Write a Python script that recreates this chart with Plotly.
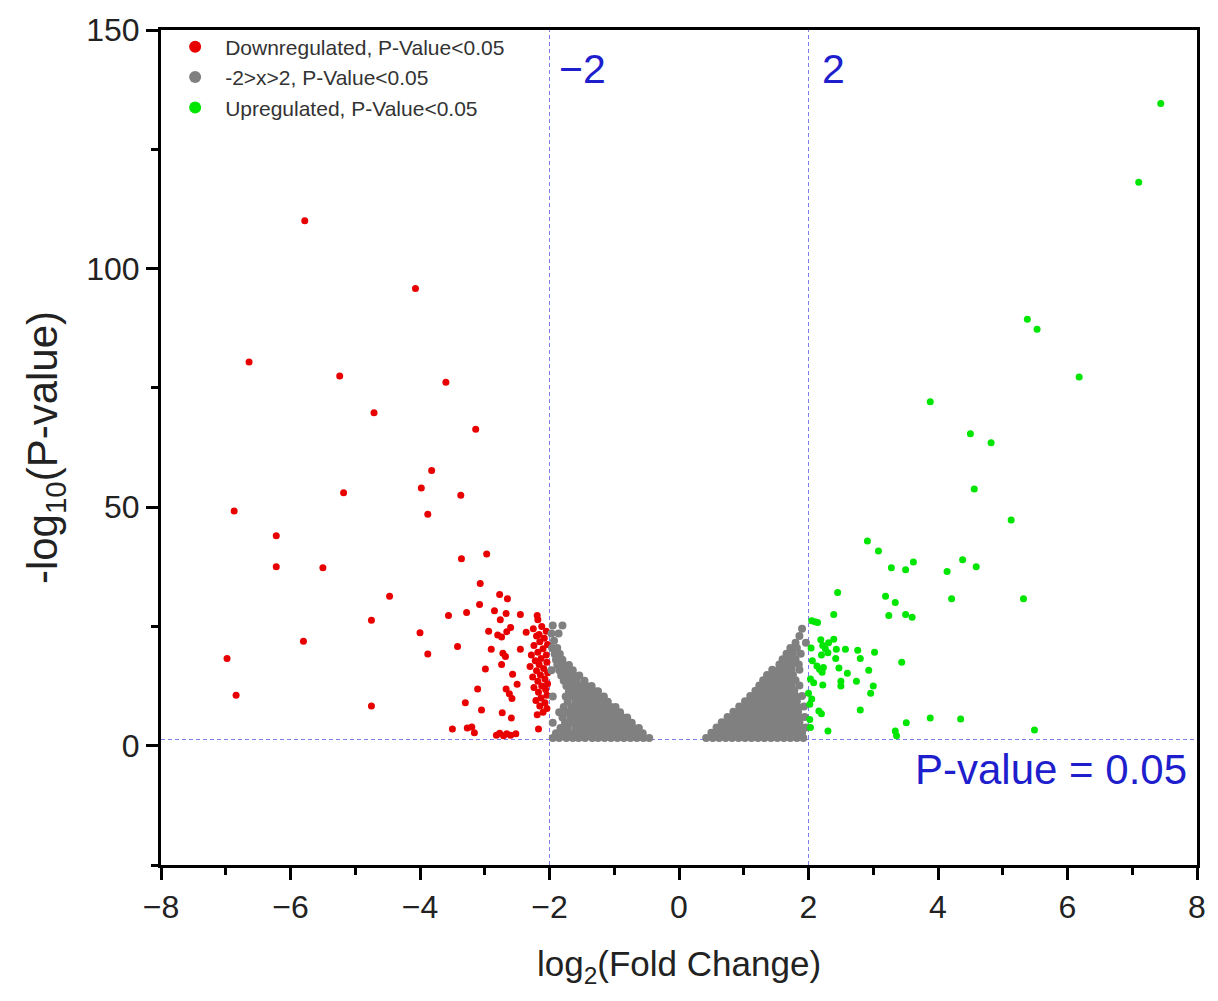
import plotly.graph_objects as go

# ---------------- data ----------------
red_x = [-5.78, -4.07, -6.64, -5.24, -3.60, -4.71, -3.14, -3.82, -3.98, -5.18, -3.37, -6.87, -3.88,
         -6.22, -6.22, -5.50, -3.36, -2.97, -3.07, -4.47, -2.77, -2.65, -3.08, -3.56, -3.28, -2.85,
         -2.67, -2.45, -2.19, -2.18, -2.76, -4.75, -4.00, -2.94, -2.80, -2.74, -2.66, -2.60, -2.36,
         -5.80, -3.42, -2.90, -2.45, -2.72, -2.68, -3.88, -6.98, -2.74, -2.99, -2.57, -2.50, -3.11,
         -2.67, -2.62, -2.58, -6.84, -3.30, -4.75, -3.05, -2.73, -2.59, -3.50, -3.27, -3.20, -3.16,
         -2.82, -2.77, -2.71, -2.66, -2.60, -2.52, -2.17,
         -2.25, -2.12, -2.05, -2.20, -2.08, -2.15, -2.03, -2.24, -2.10, -2.18, -2.05, -2.28, -2.13,
         -2.22, -2.04, -2.16, -2.30, -2.09, -2.20, -2.03, -2.14, -2.26, -2.07, -2.18, -2.03, -2.12,
         -2.24, -2.06, -2.17, -2.04, -2.13, -2.21, -2.07, -2.15, -2.04, -2.10, -2.19, -2.16]
red_y = [110.0, 95.8, 80.4, 77.5, 76.2, 69.8, 66.3, 57.7, 54.0, 53.0, 52.5, 49.2, 48.5,
         44.0, 37.5, 37.3, 39.2, 40.2, 34.0, 31.3, 31.7, 30.8, 29.6, 27.3, 27.9, 28.3,
         27.7, 27.5, 27.3, 26.4, 26.4, 26.3, 23.7, 24.0, 23.2, 22.8, 23.9, 24.8, 23.8,
         21.9, 20.8, 20.2, 20.2, 19.4, 18.7, 19.2, 18.3, 17.0, 16.1, 15.0, 12.9, 11.9,
         11.9, 10.9, 9.9, 10.6, 9.0, 8.3, 7.5, 6.9, 5.8, 3.5, 3.7, 3.9, 2.7,
         2.2, 2.6, 2.1, 2.5, 2.2, 2.5, 3.5,
         24.5, 25.0, 24.0, 23.0, 22.5, 21.8, 21.2, 21.0, 20.3, 19.6, 19.0, 19.0, 18.3,
         17.8, 17.5, 17.0, 16.6, 16.2, 15.7, 15.3, 14.8, 14.4, 14.0, 13.5, 13.0, 12.5,
         12.2, 11.8, 11.2, 10.6, 10.0, 9.5, 9.0, 8.3, 7.8, 7.0, 6.5, 23.3]

green_x = [7.44, 7.10, 5.38, 5.53, 6.18, 3.88, 4.50, 4.82, 4.56, 5.13, 2.91, 3.08, 3.62, 3.28,
           3.50, 4.38, 4.59, 4.14, 2.45, 3.19, 3.34, 4.21, 5.32, 2.39, 3.24, 3.50, 3.60, 2.05,
           2.14, 2.10, 2.39, 2.22, 2.26, 2.30, 2.20, 2.43, 2.57, 2.76, 3.02, 2.42, 2.80, 2.13,
           2.17, 2.21, 2.23, 2.47, 2.60, 2.93, 3.44, 2.03, 2.50, 2.50, 2.74, 2.22, 3.00, 2.96,
           2.00, 2.02, 2.16, 2.20, 2.80, 3.88, 4.35, 3.51, 2.03, 2.30, 3.34, 3.36, 5.49,
           2.04, 2.06, 2.02, 2.08, 2.05, 2.31, 2.19]
green_y = [134.6, 118.1, 89.4, 87.3, 77.3, 72.1, 65.4, 63.5, 53.8, 47.3, 42.9, 40.8, 38.5, 37.3,
           36.9, 39.0, 37.5, 36.5, 32.1, 31.3, 30.0, 30.8, 30.8, 27.5, 27.3, 27.5, 26.9, 26.2,
           25.8, 26.0, 22.3, 21.0, 20.3, 19.5, 19.0, 20.2, 20.2, 20.0, 19.6, 18.3, 18.3, 16.7,
           16.0, 15.4, 16.4, 16.3, 15.2, 15.8, 17.5, 14.0, 13.5, 12.5, 13.5, 12.7, 12.5, 11.0,
           11.0, 8.7, 7.3, 6.7, 7.5, 5.8, 5.6, 4.8, 3.8, 3.1, 3.1, 2.1, 3.3,
           20.5, 17.8, 5.5, 13.2, 9.8, 21.6, 22.2]

# grey points (|log2FC| < 2), left and right wings, listed row by row
grey_left = [
    (1.6, [-1.95, -1.85, -1.74, -1.64, -1.55, -1.45, -1.34, -1.25, -1.15, -1.05, -0.95, -0.85, -0.75, -0.65, -0.55, -0.46]),
    (2.6, [-1.90, -1.78, -1.68, -1.57, -1.47, -1.36, -1.26, -1.16, -1.06, -0.96, -0.86, -0.76, -0.66, -0.56]),
    (3.7, [-1.83, -1.72, -1.60, -1.50, -1.40, -1.30, -1.20, -1.10, -1.00, -0.90, -0.80, -0.70, -0.62]),
    (4.8, [-1.95, -1.76, -1.65, -1.54, -1.44, -1.33, -1.23, -1.13, -1.03, -0.93, -0.83, -0.73]),
    (5.9, [-1.80, -1.68, -1.58, -1.48, -1.37, -1.27, -1.17, -1.07, -0.97, -0.87, -0.80]),
    (7.0, [-1.85, -1.73, -1.62, -1.52, -1.41, -1.31, -1.21, -1.11, -1.01, -0.91]),
    (8.1, [-1.78, -1.66, -1.56, -1.45, -1.35, -1.25, -1.15, -1.05, -0.98]),
    (9.2, [-1.72, -1.60, -1.50, -1.40, -1.30, -1.20, -1.10]),
    (10.3, [-1.95, -1.75, -1.64, -1.54, -1.44, -1.34, -1.24, -1.16]),
    (11.4, [-1.70, -1.60, -1.50, -1.40, -1.30, -1.25]),
    (12.5, [-1.74, -1.63, -1.53, -1.43, -1.35]),
    (13.6, [-1.78, -1.68, -1.58, -1.46]),
    (14.7, [-1.82, -1.72, -1.62, -1.54]),
    (15.8, [-1.97, -1.85, -1.75, -1.64]),
    (16.9, [-1.88, -1.78, -1.70]),
    (18.0, [-1.90, -1.80]),
    (19.2, [-1.92, -1.84]),
    (20.5, [-1.96, -1.88]),
    (22.0, [-1.93]),
    (23.5, [-1.97, -1.86]),
    (25.2, [-1.95, -1.80]),
]
grey_right = [
    (1.6, [0.42, 0.52, 0.62, 0.72, 0.82, 0.92, 1.02, 1.12, 1.22, 1.32, 1.42, 1.52, 1.62, 1.72, 1.82, 1.92]),
    (2.7, [0.50, 0.60, 0.70, 0.80, 0.90, 1.00, 1.10, 1.20, 1.30, 1.40, 1.50, 1.60, 1.70, 1.80, 1.90]),
    (3.8, [0.58, 0.68, 0.78, 0.88, 0.98, 1.08, 1.18, 1.28, 1.38, 1.48, 1.58, 1.68, 1.78, 1.88, 1.96]),
    (4.9, [0.66, 0.76, 0.86, 0.96, 1.06, 1.16, 1.26, 1.36, 1.46, 1.56, 1.66, 1.76, 1.86]),
    (6.0, [0.75, 0.85, 0.95, 1.05, 1.15, 1.25, 1.35, 1.45, 1.55, 1.65, 1.75, 1.85, 1.94]),
    (7.1, [0.84, 0.94, 1.04, 1.14, 1.24, 1.34, 1.44, 1.54, 1.64, 1.74, 1.84]),
    (8.2, [0.93, 1.03, 1.13, 1.23, 1.33, 1.43, 1.53, 1.63, 1.73, 1.83, 1.93]),
    (9.3, [1.02, 1.12, 1.22, 1.32, 1.42, 1.52, 1.62, 1.72, 1.82]),
    (10.4, [1.10, 1.20, 1.30, 1.40, 1.50, 1.60, 1.70, 1.80, 1.90]),
    (11.5, [1.18, 1.28, 1.38, 1.48, 1.58, 1.68, 1.78]),
    (12.6, [1.24, 1.34, 1.44, 1.54, 1.64, 1.74, 1.86]),
    (13.7, [1.30, 1.40, 1.50, 1.60, 1.70, 1.80]),
    (14.8, [1.36, 1.46, 1.56, 1.66, 1.76]),
    (15.9, [1.44, 1.54, 1.64, 1.74, 1.86]),
    (17.0, [1.55, 1.65, 1.75, 1.85]),
    (18.1, [1.60, 1.70, 1.80]),
    (19.3, [1.66, 1.76, 1.88]),
    (20.5, [1.72, 1.82]),
    (21.6, [1.80, 1.96]),
    (23.0, [1.86]),
    (24.5, [1.90]),
]

grey_x, grey_y = [], []
for yv, xs in grey_left + grey_right:
    for xv in xs:
        grey_x.append(xv)
        grey_y.append(yv)

fc_thresholds = [-2, 2]
p_threshold = 1.30103  # -log10(0.05)

x_ticks = [-8, -6, -4, -2, 0, 2, 4, 6, 8]
x_ticktext = ["\u22128", "\u22126", "\u22124", "\u22122", "0", "2", "4", "6", "8"]
y_ticks = [0, 50, 100, 150]

# ---------------- figure ----------------
FONT = "Arial, Liberation Sans, sans-serif"
BLUE_TXT = "rgb(30,30,205)"
LINE_C = "rgb(125,125,235)"
MS = 7

fig = go.Figure()
fig.add_trace(go.Scatter(x=red_x, y=red_y, mode="markers", name="Downregulated, P-Value<0.05",
                         legendgroup="a", marker=dict(color="rgb(232,0,0)", size=MS)))
fig.add_trace(go.Scatter(x=grey_x, y=grey_y, mode="markers", name="-2>x>2, P-Value<0.05",
                         legendgroup="b", marker=dict(color="rgb(128,128,128)", size=8)))
fig.add_trace(go.Scatter(x=green_x, y=green_y, mode="markers", name="Upregulated, P-Value<0.05",
                         legendgroup="c", marker=dict(color="rgb(0,230,0)", size=MS)))

for xv in fc_thresholds:
    fig.add_shape(type="line", xref="x", yref="paper", x0=xv, x1=xv, y0=0, y1=1,
                  line=dict(color=LINE_C, width=1, dash="4px,3px"), layer="below")
fig.add_shape(type="line", xref="paper", yref="y", x0=0, x1=1, y0=p_threshold, y1=p_threshold,
              line=dict(color=LINE_C, width=1, dash="4px,3px"), layer="below")

fig.add_annotation(x=-1.88, y=141.8, xref="x", yref="y", text="\u22122", showarrow=False,
                   xanchor="left", yanchor="middle", font=dict(family=FONT, size=41, color=BLUE_TXT))
fig.add_annotation(x=2.18, y=141.8, xref="x", yref="y", text="2", showarrow=False,
                   xanchor="left", yanchor="middle", font=dict(family=FONT, size=41, color=BLUE_TXT))
fig.add_annotation(x=7.88, y=-5.0, xref="x", yref="y", text="P-value = 0.05", showarrow=False,
                   xanchor="right", yanchor="middle", font=dict(family=FONT, size=42, color=BLUE_TXT))

axis_common = dict(showline=True, linecolor="black", linewidth=3, mirror=True,
                   ticks="outside", tickwidth=2.5, ticklen=12, tickcolor="black",
                   showgrid=False, zeroline=False,
                   tickfont=dict(family=FONT, size=32, color="#222"))

fig.update_xaxes(range=[-8, 8], tickvals=x_ticks, ticktext=x_ticktext,
                 minor=dict(ticks="outside", ticklen=7, tickwidth=2.5, tickcolor="black", dtick=1, tick0=0),
                 title=dict(text="log<sub>2</sub>(Fold Change)", font=dict(family=FONT, size=35, color="#222"), standoff=28),
                 **axis_common)
fig.update_yaxes(range=[-25, 150], tickvals=y_ticks,
                 minor=dict(ticks="outside", ticklen=7, tickwidth=2.5, tickcolor="black", dtick=25, tick0=0),
                 title=dict(text="-log<sub>10</sub>(P-value)", font=dict(family=FONT, size=42, color="#222"), standoff=16),
                 **axis_common)

fig.update_layout(
    width=1218, height=1001,
    margin=dict(l=161, r=19, t=24, b=136),
    paper_bgcolor="white", plot_bgcolor="white",
    showlegend=True,
    legend=dict(x=0.004, y=1.004, xanchor="left", yanchor="top", bgcolor="rgba(0,0,0,0)",
                font=dict(family=FONT, size=21, color="#333"), tracegroupgap=0,
                itemwidth=50, itemsizing="constant"),
)

fig.write_html("out.html")
